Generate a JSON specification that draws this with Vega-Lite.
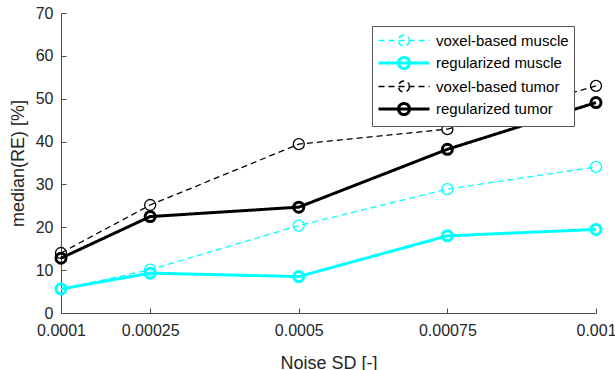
{
  "$schema": "https://vega.github.io/schema/vega-lite/v6.json",
  "width": 535,
  "height": 300,
  "autosize": {"type": "none"},
  "padding": {"left": 61, "top": 13, "right": 19, "bottom": 57},
  "background": "white",
  "config": {
    "view": {"stroke": null},
    "font": "Liberation Sans",
    "axis": {
      "grid": false,
      "domainColor": "#4d4d4d",
      "tickColor": "#4d4d4d",
      "labelColor": "#262626",
      "titleColor": "#262626",
      "labelFontSize": 16,
      "titleFontSize": 18,
      "titleFontWeight": "normal",
      "tickSize": -5,
      "labelFont": "Liberation Sans",
      "titleFont": "Liberation Sans"
    }
  },
  "data": {
    "values": [
      {"noise": 0.0001, "series": "voxel-based muscle", "re": 5.6},
      {"noise": 0.00025, "series": "voxel-based muscle", "re": 10.1},
      {"noise": 0.0005, "series": "voxel-based muscle", "re": 20.4},
      {"noise": 0.00075, "series": "voxel-based muscle", "re": 28.9},
      {"noise": 0.001, "series": "voxel-based muscle", "re": 34.1},
      {"noise": 0.0001, "series": "regularized muscle", "re": 5.6},
      {"noise": 0.00025, "series": "regularized muscle", "re": 9.3},
      {"noise": 0.0005, "series": "regularized muscle", "re": 8.5},
      {"noise": 0.00075, "series": "regularized muscle", "re": 18.0},
      {"noise": 0.001, "series": "regularized muscle", "re": 19.5},
      {"noise": 0.0001, "series": "voxel-based tumor", "re": 14.0},
      {"noise": 0.00025, "series": "voxel-based tumor", "re": 25.2},
      {"noise": 0.0005, "series": "voxel-based tumor", "re": 39.4},
      {"noise": 0.00075, "series": "voxel-based tumor", "re": 42.9},
      {"noise": 0.001, "series": "voxel-based tumor", "re": 53.0},
      {"noise": 0.0001, "series": "regularized tumor", "re": 12.8},
      {"noise": 0.00025, "series": "regularized tumor", "re": 22.5},
      {"noise": 0.0005, "series": "regularized tumor", "re": 24.7},
      {"noise": 0.00075, "series": "regularized tumor", "re": 38.2},
      {"noise": 0.001, "series": "regularized tumor", "re": 49.1}
    ]
  },
  "encoding": {
    "x": {
      "field": "noise",
      "type": "quantitative",
      "scale": {"domain": [0.0001, 0.001], "nice": false, "zero": false},
      "axis": {
        "title": "Noise SD [-]",
        "values": [0.0001, 0.00025, 0.0005, 0.00075, 0.001],
        "labelExpr": "format(datum.value, '~g')",
        "labelFlush": false,
        "labelOverlap": false,
        "labelPadding": 14,
        "titlePadding": 16
      }
    },
    "y": {
      "field": "re",
      "type": "quantitative",
      "scale": {"domain": [0, 70], "nice": false},
      "axis": {
        "title": "median(RE) [%]",
        "values": [0, 10, 20, 30, 40, 50, 60, 70],
        "labelPadding": 13,
        "titlePadding": 8
      }
    },
    "color": {
      "field": "series",
      "type": "nominal",
      "sort": ["voxel-based muscle", "regularized muscle", "voxel-based tumor", "regularized tumor"],
      "scale": {
        "domain": ["voxel-based muscle", "regularized muscle", "voxel-based tumor", "regularized tumor"],
        "range": ["#00FFFF", "#00FFFF", "#000000", "#000000"]
      },
      "legend": {
        "title": null,
        "orient": "none",
        "legendX": 311,
        "legendY": 13,
        "direction": "vertical",
        "symbolType": "M-1,0L5,0M2.65,0A0.65,0.65,0,1,1,1.35,0A0.65,0.65,0,1,1,2.65,0",
        "symbolSize": 289,
        "symbolFillColor": "transparent",
        "labelFontSize": 15,
        "labelFont": "Liberation Sans",
        "labelColor": "#000000",
        "labelOffset": 39,
        "rowPadding": 2,
        "padding": 5,
        "strokeColor": "#555555",
        "fillColor": "white"
      }
    },
    "strokeWidth": {
      "field": "series",
      "type": "nominal",
      "sort": ["voxel-based muscle", "regularized muscle", "voxel-based tumor", "regularized tumor"],
      "scale": {
        "type": "ordinal",
        "domain": ["voxel-based muscle", "regularized muscle", "voxel-based tumor", "regularized tumor"],
        "range": [1.3, 3, 1.3, 3]
      },
      "legend": {
        "title": null,
        "orient": "none",
        "legendX": 311,
        "legendY": 13,
        "direction": "vertical",
        "symbolType": "M-1,0L5,0M2.65,0A0.65,0.65,0,1,1,1.35,0A0.65,0.65,0,1,1,2.65,0",
        "symbolSize": 289,
        "symbolFillColor": "transparent",
        "labelFontSize": 15,
        "labelFont": "Liberation Sans",
        "labelColor": "#000000",
        "labelOffset": 39,
        "rowPadding": 2,
        "padding": 5,
        "strokeColor": "#555555",
        "fillColor": "white"
      }
    }
  },
  "layer": [
    {
      "mark": {"type": "line"},
      "encoding": {
        "strokeDash": {
          "field": "series",
          "type": "nominal",
          "scale": {
            "domain": ["voxel-based muscle", "regularized muscle", "voxel-based tumor", "regularized tumor"],
            "range": [[6, 4], [1, 0], [6, 4], [1, 0]]
          },
          "legend": null
        }
      }
    },
    {
      "mark": {"type": "point", "filled": false, "shape": "circle", "opacity": 1},
      "encoding": {
        "size": {
          "condition": {"test": "indexof(datum.series, 'regularized') === 0", "value": 100},
          "value": 121
        }
      }
    }
  ]
}
